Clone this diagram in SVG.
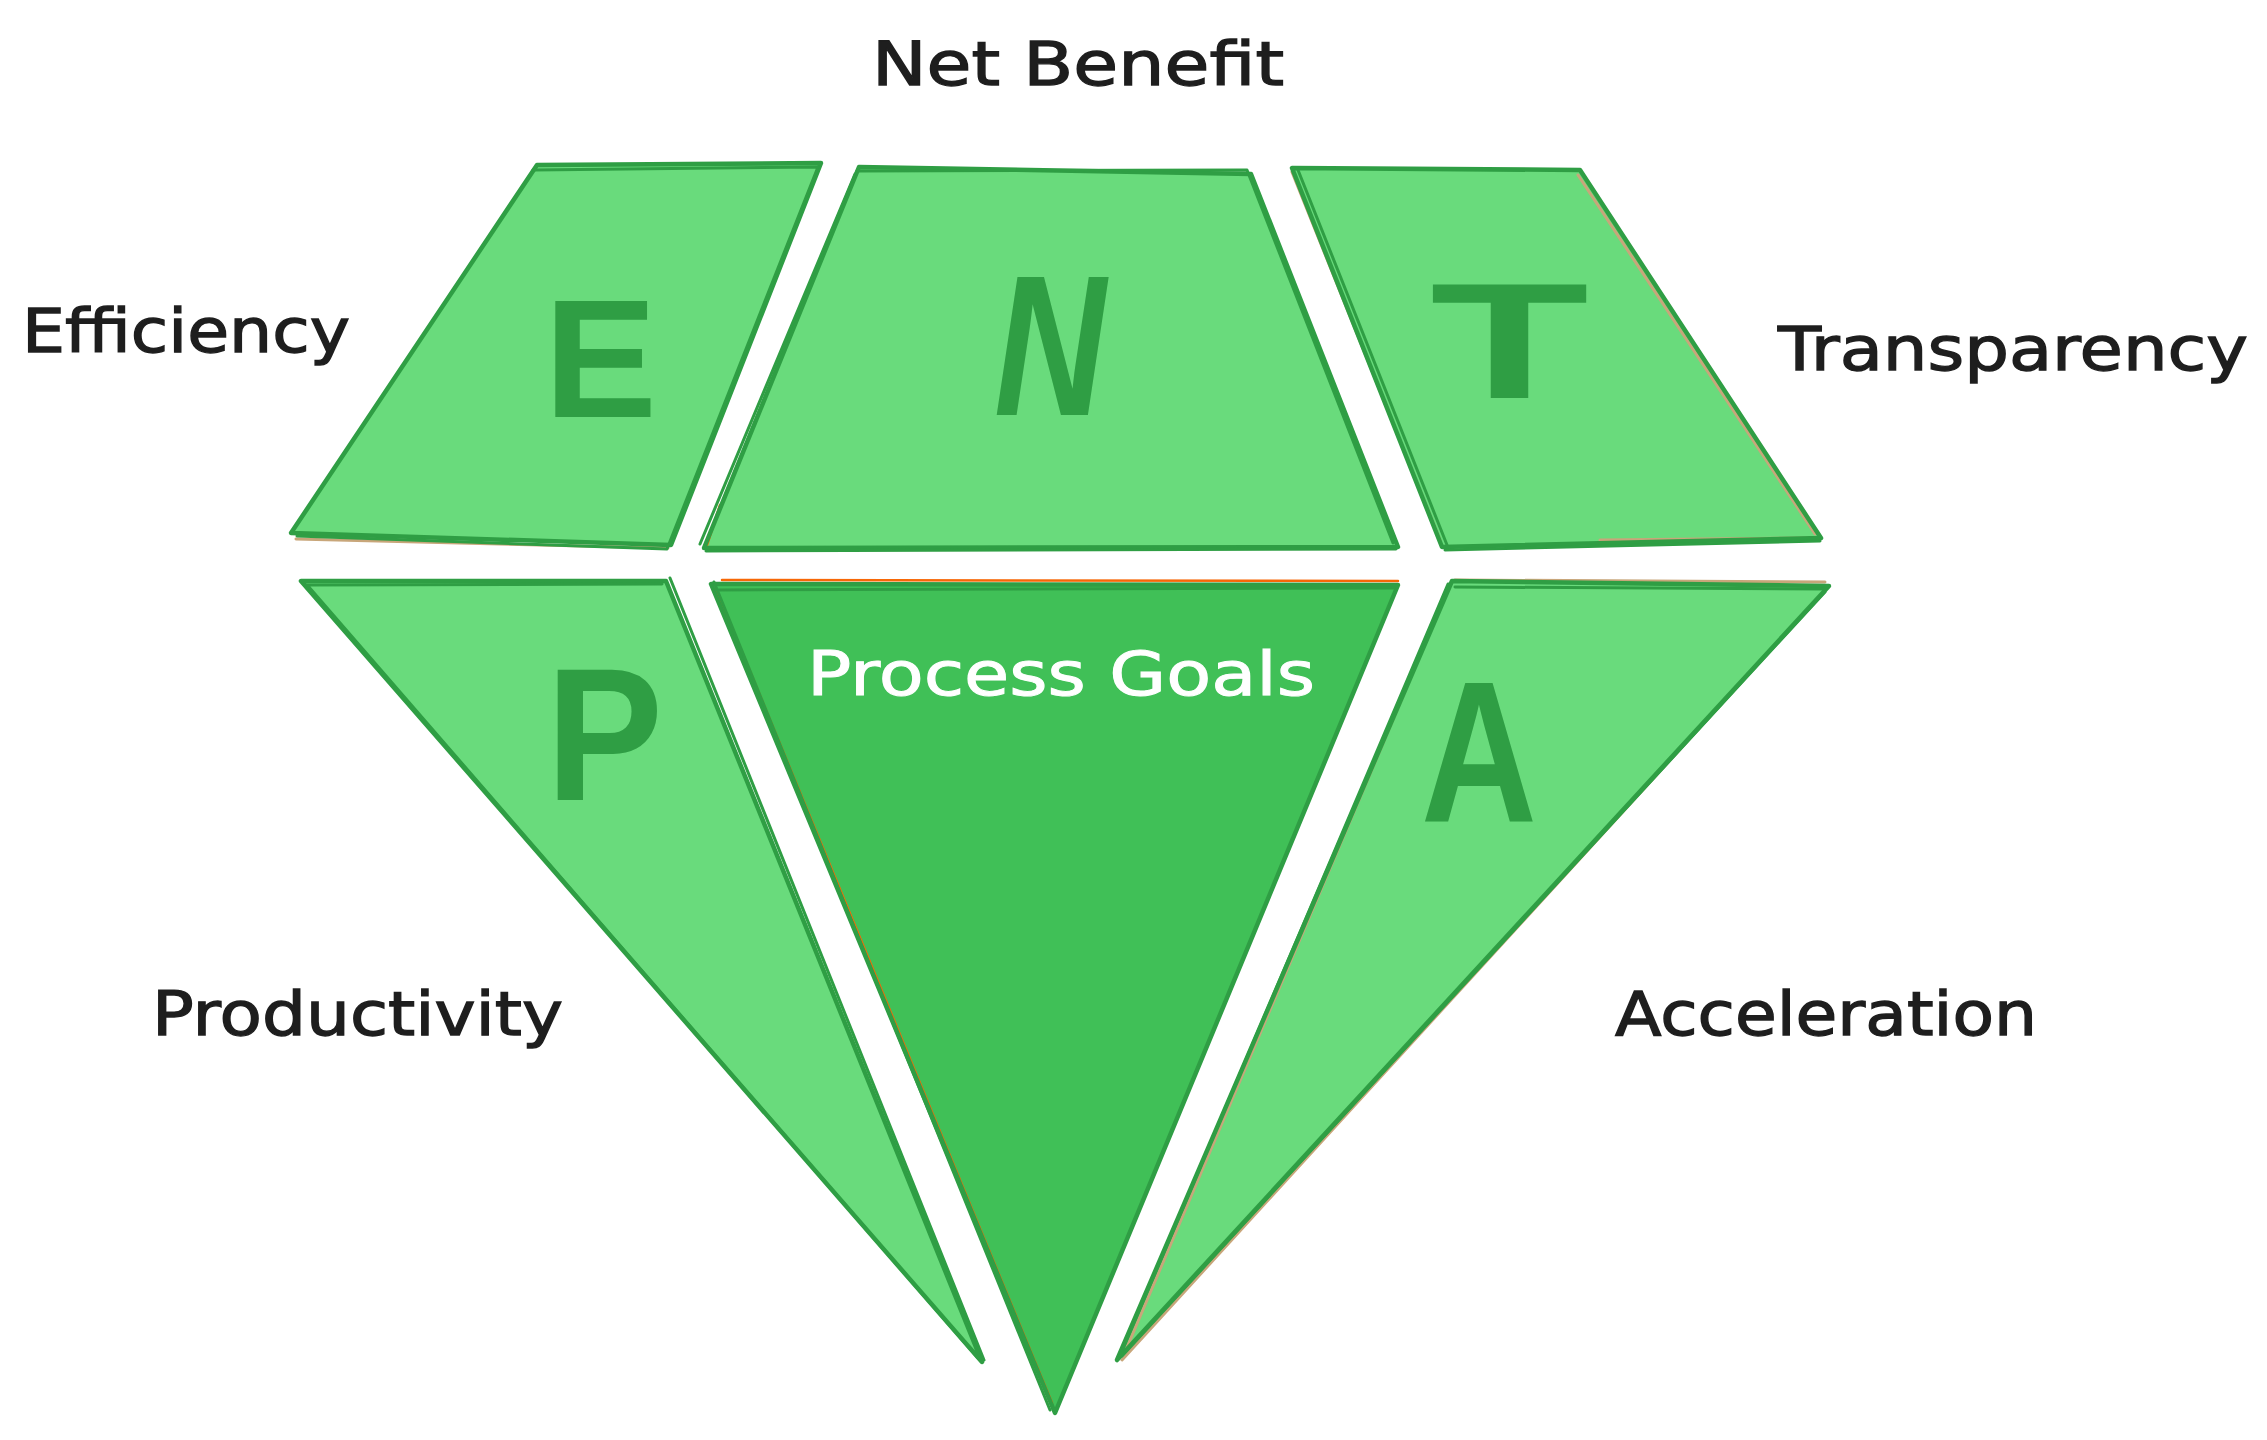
<svg xmlns="http://www.w3.org/2000/svg" width="2267" height="1440" viewBox="0 0 2267 1440">
  <style>
    .f1 { fill: #69db7c; }
    .f2 { fill: #40c057; }
    .s { fill: none; stroke: #2f9e44; stroke-width: 4.5; stroke-linejoin: round; stroke-linecap: round; }
    .s2 { fill: none; stroke: #2f9e44; stroke-width: 3; stroke-linejoin: round; stroke-linecap: round; }
    .tan { fill: none; stroke: #c8a67a; stroke-width: 3; stroke-linecap: round; }
    .org { fill: none; stroke: #f76707; stroke-width: 2.5; stroke-linecap: round; }
    .lbl { font-family: "DejaVu Sans", "Liberation Sans", sans-serif; font-size: 60px; fill: #1e1e1e; stroke: #1e1e1e; stroke-width: 1.3; }
    .white { fill: #ffffff; stroke: #ffffff; stroke-width: 1; }
    .big { font-family: "Liberation Sans", "DejaVu Sans", sans-serif; font-weight: bold; fill: #2f9e44; }
  </style>
  <rect width="2267" height="1440" fill="#ffffff"/>

  <g id="labels">
    <text class="lbl" x="872" y="85" textLength="412" lengthAdjust="spacingAndGlyphs">Net Benefit</text>
    <text class="lbl" x="22" y="352" textLength="328" lengthAdjust="spacingAndGlyphs">Efficiency</text>
    <text class="lbl" x="1778" y="370" textLength="470" lengthAdjust="spacingAndGlyphs">Transparency</text>
    <text class="lbl" x="152" y="1035" textLength="411" lengthAdjust="spacingAndGlyphs">Productivity</text>
    <text class="lbl" x="1615" y="1035" textLength="422" lengthAdjust="spacingAndGlyphs">Acceleration</text>
  </g>

  <g id="node-E">
    <polygon class="f1" points="537,165 821,163 671,545 291,533"/>
    <path class="tan" d="M296,539 L668,548 M818,168 L672,540"/>
    <path class="s" d="M537,165 L821,163 L671,545 L291,533 Z"/>
    <path class="s2" d="M533,170 L818,167 L667,549 L297,536"/>
    <text class="big" x="544" y="417" font-size="168" textLength="113" lengthAdjust="spacingAndGlyphs">E</text>
  </g>

  <g id="node-N">
    <polygon class="f1" points="859,167 1251,174 1398,547 704,548"/>
    <path class="org" d="M707,545 L720,505"/>
    <path class="s" d="M859,167 L1251,174 L1398,547 L704,548 Z"/>
    <path class="s2" d="M857,171 L1247,170 L1393,543 M700,544 L855,174 M706,551 L1396,549"/>
    <text class="big" x="994" y="415" font-size="200" font-style="italic" textLength="112" lengthAdjust="spacingAndGlyphs">N</text>
  </g>

  <g id="node-T">
    <polygon class="f1" points="1292,168 1580,170 1821,538 1442,547"/>
    <path class="tan" d="M1292,172 L1440,540 M1578,175 L1815,534 M1600,540 L1815,538"/>
    <path class="s" d="M1292,168 L1580,170 L1821,538 L1442,547 Z"/>
    <path class="s2" d="M1298,170 L1447,545 M1445,550 L1820,541"/>
    <text class="big" x="1430" y="398" font-size="165" textLength="159" lengthAdjust="spacingAndGlyphs">T</text>
  </g>

  <g id="node-P">
    <polygon class="f1" points="301,581 666,581 982,1362"/>
    <path class="s" d="M301,581 L666,581 L982,1362 Z"/>
    <path class="s2" d="M305,585 L662,584 M670,578 L984,1360 M308,586 L978,1358"/>
    <text class="big" x="546" y="800" font-size="190" textLength="117" lengthAdjust="spacingAndGlyphs">P</text>
  </g>

  <g id="node-process-goals">
    <polygon class="f2" points="711,584 1398,585 1055,1413"/>
    <path class="org" d="M722,580 L1398,581 M716,589 L1052,1403"/>
    <path class="s" d="M711,584 L1398,585 L1055,1413 Z"/>
    <path class="s2" d="M714,582 L1050,1410 M716,590 L1394,588"/>
    <text class="lbl white" x="807" y="695" textLength="508" lengthAdjust="spacingAndGlyphs">Process Goals</text>
  </g>

  <g id="node-A">
    <polygon class="f1" points="1452,581 1829,586 1117,1360"/>
    <path class="tan" d="M1455,580 L1825,582 M1450,585 L1125,1352 M1122,1360 L1820,596"/>
    <path class="s" d="M1452,581 L1829,586 L1117,1360 Z"/>
    <path class="s2" d="M1455,587 L1826,589 M1448,584 L1120,1356 M1825,592 L1122,1356"/>
    <text class="big" x="1421" y="821" font-size="200" textLength="116" lengthAdjust="spacingAndGlyphs">A</text>
  </g>
</svg>
